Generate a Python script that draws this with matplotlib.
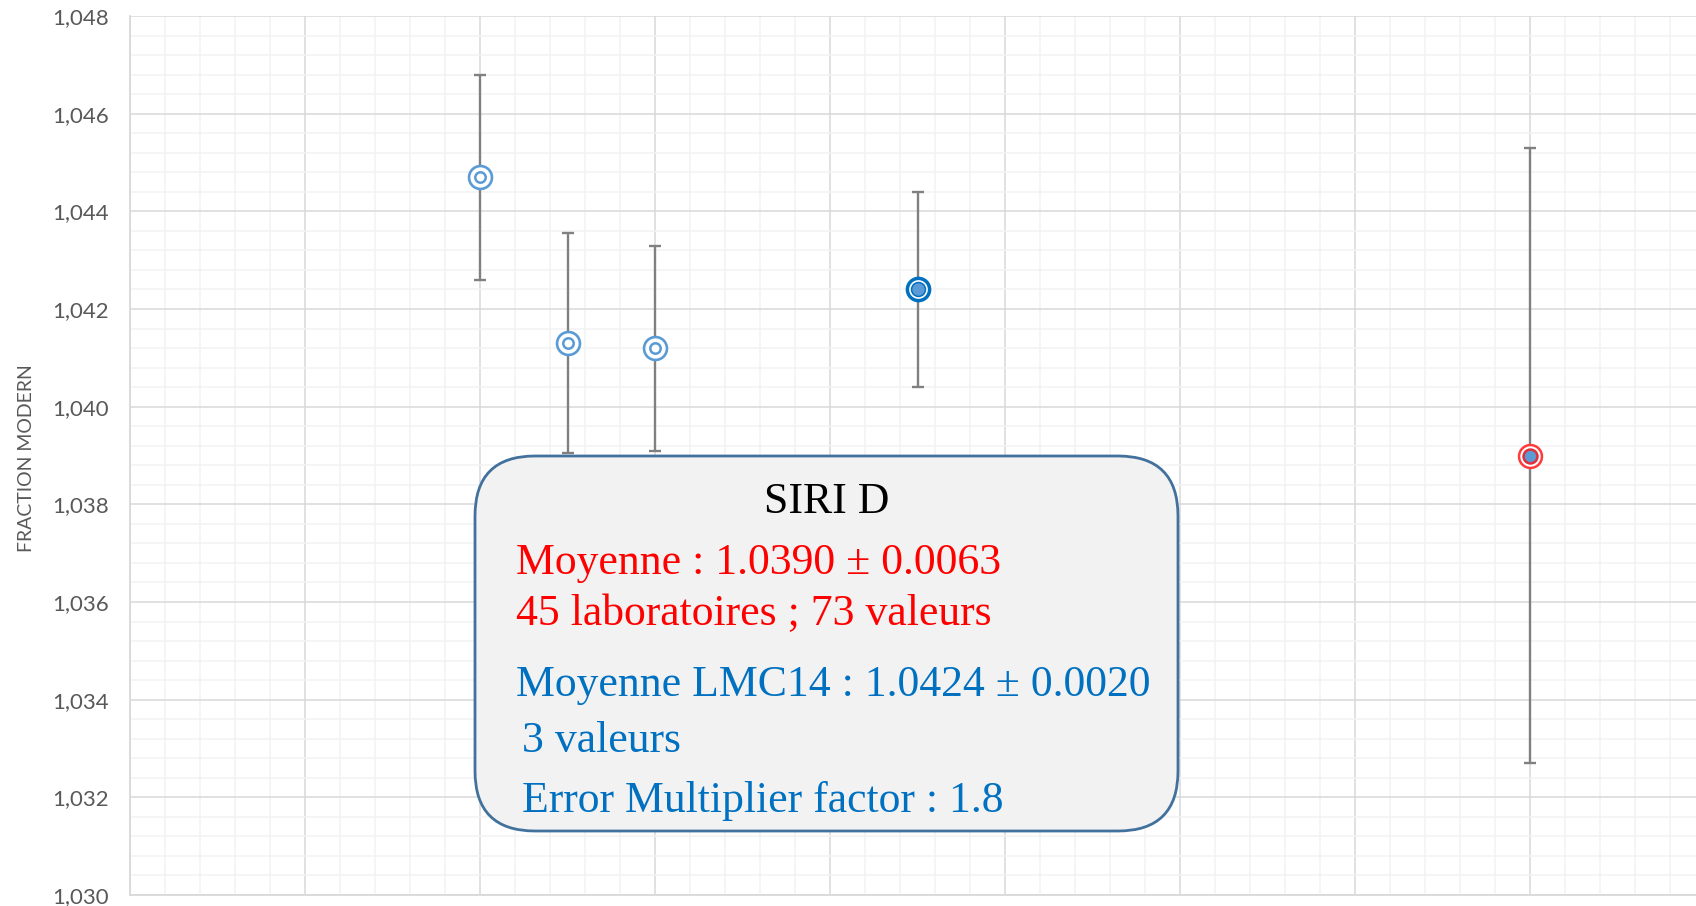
import matplotlib
matplotlib.use("Agg")
import matplotlib.pyplot as plt
from matplotlib.patches import FancyBboxPatch
from matplotlib.ticker import MultipleLocator, FuncFormatter

# Laboratory results (open circles)
lab_x = [2, 2.5, 3]
lab_y = [1.0447, 1.0413, 1.0412]
lab_err = [0.0021, 0.00225, 0.0021]

# LMC14 mean
lmc_x = [4.5]
lmc_y = [1.0424]
lmc_err = [0.0020]

# overall mean
mean_x = [8]
mean_y = [1.0390]
mean_err = [0.0063]

box_title = "SIRI D"
red_lines = ["Moyenne : 1.0390 \u00b1 0.0063", "45 laboratoires ; 73 valeurs"]
blue_lines = ["Moyenne LMC14 : 1.0424 \u00b1 0.0020", "3 valeurs", "Error Multiplier factor : 1.8"]

W, H = 1696, 906
fig = plt.figure(figsize=(W / 100, H / 100), dpi=100)
ax = fig.add_axes([130 / W, (H - 895) / H, (W - 130) / W, 879 / H])

ax.set_xlim(0, (W - 130) / 175)
ax.set_ylim(1.030, 1.048)
ax.xaxis.set_major_locator(MultipleLocator(1))
ax.xaxis.set_minor_locator(MultipleLocator(0.2))
ax.yaxis.set_major_locator(MultipleLocator(0.002))
ax.yaxis.set_minor_locator(MultipleLocator(0.0004))
ax.yaxis.set_major_formatter(FuncFormatter(lambda v, p: f"{v:.3f}".replace(".", ",")))
ax.set_xticklabels([])
ax.tick_params(which="both", length=0)
ax.tick_params(axis="y", pad=15, labelsize=16, labelcolor="#595959")
for lab in ax.get_yticklabels():
	lab.set_family("Lato")

ax.grid(which="minor", color="#F2F2F2", linewidth=1.1, zorder=0)
ax.grid(which="major", color="#D9D9D9", linewidth=1.1, zorder=0)
ax.set_axisbelow(True)
for s in ["top", "right"]:
	ax.spines[s].set_visible(False)
for s in ["left", "bottom"]:
	ax.spines[s].set_color("#D9D9D9")
	ax.spines[s].set_linewidth(1.3)

ebar = dict(fmt="none", ecolor="#808080", elinewidth=1.7, capsize=4.5, capthick=1.7, zorder=3)
ax.errorbar(lab_x, lab_y, yerr=lab_err, **ebar)
ax.errorbar(lmc_x, lmc_y, yerr=lmc_err, **ebar)
ax.errorbar(mean_x, mean_y, yerr=mean_err, **ebar)

light = "#5B9BD5"
# open double circles
ax.plot(lab_x, lab_y, "o", ms=16.5, mfc="white", mec=light, mew=1.9, ls="none", zorder=4)
ax.plot(lab_x, lab_y, "o", ms=7.5, mfc="white", mec=light, mew=1.8, ls="none", zorder=5)
# LMC14 mean
ax.plot(lmc_x, lmc_y, "o", ms=16.0, mfc="white", mec="#0070C0", mew=2.5, ls="none", zorder=4)
ax.plot(lmc_x, lmc_y, "o", ms=10.0, mfc=light, mec="#0070C0", mew=1.1, ls="none", zorder=5)
# overall mean
ax.plot(mean_x, mean_y, "o", ms=16.5, mfc="white", mec="#FF3B3B", mew=1.8, ls="none", zorder=4)
ax.plot(mean_x, mean_y, "o", ms=10.0, mfc=light, mec="#E0303A", mew=1.8, ls="none", zorder=5)

fig.text(27 / W, (H - 458) / H, "FRACTION MODERN", rotation=90, ha="center", va="center",
	fontsize=14, color="#595959", family="Lato")

# text box
bx0, by0, bx1, by1 = 475, 456, 1178, 831
box = FancyBboxPatch((bx0 / W, (H - by1) / H), (bx1 - bx0) / W, (by1 - by0) / H,
	boxstyle=f"round,pad=0,rounding_size={60 / W}", mutation_aspect=W / H,
	transform=fig.transFigure, facecolor="#F2F2F2", edgecolor="#41719C", linewidth=2.0, zorder=10)
fig.patches.append(box)

tf = dict(family="Liberation Serif", fontsize=31.5, va="baseline", zorder=11)
fig.text((bx0 + bx1) / 2 / W, (H - 513) / H, box_title, ha="center", color="black", **tf)
for txt, yb in zip(red_lines, [574, 625]):
	fig.text(516 / W, (H - yb) / H, txt, ha="left", color="#FF0000", **tf)
for txt, x0, yb in zip(blue_lines, [516, 522, 522], [696, 752, 812]):
	fig.text(x0 / W, (H - yb) / H, txt, ha="left", color="#0070C0", **tf)

plt.savefig("out.png", dpi=100)
